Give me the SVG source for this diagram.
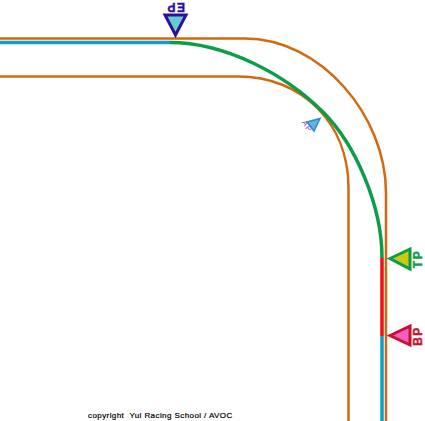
<svg xmlns="http://www.w3.org/2000/svg" width="425" height="421" viewBox="0 0 425 421">
<style>
.t{fill:none;stroke:#d2690f;stroke-width:2.5}
.r{fill:none;stroke-width:3.5}
.m{stroke-width:3;stroke-linejoin:miter}
.l{font-family:"Liberation Sans",Arial,sans-serif;font-weight:700;font-size:12px;letter-spacing:1.5px;stroke-width:.4}
</style>
<rect width="425" height="421" fill="#fff"/>
<g id="connectors">
<path class="t" d="M0 38.500H245C320 38.500 386 115 386 193V421"/>
<path class="t" d="M0 76.500H238C302 76.500 348.500 123 348.500 188V421"/>
<path class="r" stroke="#159ccb" d="M0 42.500H170"/>
<path class="r" stroke="#0d9c48" d="M170 42.500C225 42.500 285 74 323 112C355 144 382 205 382 258"/>
<path class="r" stroke="#f01010" d="M382 258V336"/>
<path class="r" stroke="#159ccb" d="M382 336V421"/>
</g>
<g id="EP">
<polygon class="m" points="165,15 186,15 175.500,35" fill="#66cccc" stroke="#30109a"/>
<text class="l" fill="#30109a" stroke="#30109a" transform="rotate(180 175.500 7)" x="175.500" y="11" text-anchor="middle">EP</text>
</g>
<g id="AP">
<polygon points="320,118.500 307,122 314,131" fill="#66b3d9" stroke="#1a8fe0" stroke-width="1.500"/>
<text transform="rotate(55 307.500 126)" x="307.500" y="129" text-anchor="middle" font-family="Liberation Sans,Arial,sans-serif" font-size="8" letter-spacing="1" fill="#8a3fc0">AP</text>
</g>
<g id="TP">
<polygon class="m" points="390,258.500 410,249 410,269" fill="#c8cc10" stroke="#0d9c48"/>
<text class="l" fill="#0d9c48" stroke="#0d9c48" transform="rotate(-90 418 259)" x="418" y="263" text-anchor="middle">TP</text>
</g>
<g id="BP">
<polygon class="m" points="390,335.500 410,326 410,345" fill="#f060c0" stroke="#c81030"/>
<text class="l" fill="#c81030" stroke="#c81030" transform="rotate(-90 418 336)" x="418" y="340" text-anchor="middle">BP</text>
</g>
<text x="88" y="417.500" xml:space="preserve" font-family="Liberation Sans,Arial,sans-serif" font-size="8" letter-spacing=".42" stroke="#000" stroke-width=".2" fill="#000">copyright  Yul Racing School / AVOC</text>
</svg>
